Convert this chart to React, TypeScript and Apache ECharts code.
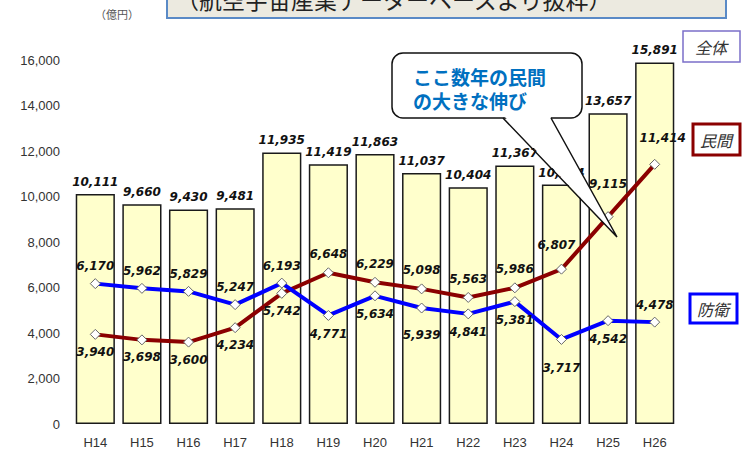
import React, { useEffect, useRef } from "react";
import * as echarts from "echarts";

const categories = ["H14", "H15", "H16", "H17", "H18", "H19", "H20", "H21", "H22", "H23", "H24", "H25", "H26"];
const totalValues = [10111, 9660, 9430, 9481, 11935, 11419, 11863, 11037, 10404, 11367, 10524, 13657, 15891];
const privateValues = [3940, 3698, 3600, 4234, 5742, 6648, 6229, 5939, 5563, 5986, 6807, 9115, 11414];
const defenseValues = [6170, 5962, 5829, 5247, 6193, 4771, 5634, 5098, 4841, 5381, 3717, 4542, 4478];
// label texts as printed in the source chart (H21 labels appear swapped there)
const privateLabelText = ["3,940", "3,698", "3,600", "4,234", "5,742", "6,648", "6,229", "5,098", "5,563", "5,986", "6,807", "9,115", "11,414"];
const defenseLabelText = ["6,170", "5,962", "5,829", "5,247", "6,193", "4,771", "5,634", "5,939", "4,841", "5,381", "3,717", "4,542", "4,478"];
const yTicks = [0, 2000, 4000, 6000, 8000, 10000, 12000, 14000, 16000];
const calloutLines = ["ここ数年の民間", "の大きな伸び"];

const fmt = (v: number) => v.toLocaleString("en-US");

export default function App() {
  const ref = useRef<HTMLDivElement>(null);
  useEffect(() => {
    if (!ref.current) return;
    const chart = echarts.init(ref.current, undefined, { renderer: "svg" });
    const labelFont = {
      fontFamily: "DejaVu Sans, Verdana, sans-serif",
      fontWeight: "bold" as const,
      fontStyle: "italic" as const,
      fontSize: 12,
      color: "#111",
    };
    const privateBelow = [0, 1, 2, 3, 4];
    const defenseAbove = [0, 1, 2, 3, 4, 12];
    const privateData = privateValues.map((v, i) => ({
      value: v,
      label: {
        position: privateBelow.includes(i) ? "bottom" : "top",
        distance: privateBelow.includes(i) ? 6 : 7,
        offset: i === 11 ? [0, -14] : i === 10 ? [-5, -6] : i === 12 ? [8, -8] : [0, 0],
      },
    }));
    const defenseData = defenseValues.map((v, i) => ({
      value: v,
      label: {
        position: defenseAbove.includes(i) ? "top" : "bottom",
        distance: defenseAbove.includes(i) ? 6 : 7,
        offset: i === 7 ? [0, 8] : i === 10 ? [0, 10] : [0, 0],
      },
    }));
    const z = 100;
    const legendText = (text: string, x: number, y: number) => ({
      type: "text",
      z: z + 1,
      x,
      y,
      style: {
        text,
        fontSize: 16,
        fontStyle: "italic",
        fontFamily: "Noto Sans CJK JP, sans-serif",
        fill: "#333",
        align: "center",
        verticalAlign: "middle",
      },
    });
    const calloutText = (text: string, y: number) => ({
      type: "text",
      z: z + 3,
      x: 413,
      y,
      style: {
        text,
        fontSize: 19,
        fontWeight: "bold",
        fontFamily: "Noto Sans CJK JP, sans-serif",
        fill: "#0070C0",
        align: "left",
        verticalAlign: "middle",
      },
    });
    chart.setOption({
      animation: false,
      backgroundColor: "#ffffff",
      grid: { left: 72, right: 68, top: 60, bottom: 24, containLabel: false },
      xAxis: {
        type: "category",
        data: categories,
        axisLine: { show: false },
        axisTick: { show: false },
        axisLabel: { color: "#333", fontSize: 13, fontFamily: "Liberation Sans, Arial, sans-serif", margin: 12 },
      },
      yAxis: {
        type: "value",
        min: yTicks[0],
        max: yTicks[yTicks.length - 1],
        interval: 2000,
        splitLine: { show: false },
        axisLine: { show: false },
        axisTick: { show: false },
        axisLabel: {
          color: "#333",
          fontSize: 13,
          fontFamily: "Liberation Sans, Arial, sans-serif",
          margin: 12,
          formatter: (v: number) => fmt(v),
        },
      },
      series: [
        {
          name: "全体",
          type: "bar",
          data: totalValues,
          barCategoryGap: "16%",
          itemStyle: { color: "#FFFFCC", borderColor: "#1a1a1a", borderWidth: 1.5 },
          label: { show: true, position: "top", distance: 6, ...labelFont, formatter: (p: any) => fmt(p.value) },
          z: 1,
        },
        {
          name: "民間",
          type: "line",
          data: privateData,
          lineStyle: { color: "#8B0000", width: 4 },
          itemStyle: { color: "#ffffff", borderColor: "#666", borderWidth: 1 },
          symbol: "diamond",
          symbolSize: 10,
          showAllSymbol: true,
          label: { show: true, ...labelFont, formatter: (p: any) => privateLabelText[p.dataIndex] },
          z: 3,
        },
        {
          name: "防衛",
          type: "line",
          data: defenseData,
          lineStyle: { color: "#0000FF", width: 4 },
          itemStyle: { color: "#ffffff", borderColor: "#666", borderWidth: 1 },
          symbol: "diamond",
          symbolSize: 10,
          showAllSymbol: true,
          label: { show: true, ...labelFont, formatter: (p: any) => defenseLabelText[p.dataIndex] },
          z: 4,
        },
      ],
      graphic: [
        // top caption box (cut off at top, as in the source)
        {
          type: "rect",
          z,
          shape: { x: 167, y: -20, width: 559, height: 38 },
          style: { fill: "#ECEAE0", stroke: "#5A8AC6", lineWidth: 2 },
        },
        {
          type: "text",
          z: z + 1,
          x: 176,
          y: -1,
          style: {
            text: "（航空宇宙産業データーベースより抜粋）",
            fontSize: 23,
            fontFamily: "Noto Sans CJK JP, sans-serif",
            fill: "#222",
            verticalAlign: "middle",
            align: "left",
          },
        },
        {
          type: "text",
          z,
          x: 117,
          y: 14,
          style: {
            text: "（億円）",
            fontSize: 11,
            fontFamily: "Noto Sans CJK JP, sans-serif",
            fill: "#555",
            align: "center",
            verticalAlign: "middle",
          },
        },
        // callout
        {
          type: "rect",
          z,
          shape: { x: 392, y: 53, width: 190, height: 65, r: 11 },
          style: { fill: "#ffffff", stroke: "#111", lineWidth: 1.5 },
        },
        {
          type: "polygon",
          z: z + 1,
          shape: { points: [[504, 116], [617, 237], [550, 116]] },
          style: { fill: "#ffffff", stroke: "none" },
        },
        {
          type: "polyline",
          z: z + 2,
          shape: { points: [[503, 118], [617, 237], [551, 118]] },
          style: { fill: "none", stroke: "#111", lineWidth: 1.5 },
        },
        calloutText(calloutLines[0], 76),
        calloutText(calloutLines[1], 100),
        // legend boxes
        {
          type: "rect",
          z,
          shape: { x: 683, y: 31, width: 57, height: 31 },
          style: { fill: "#ffffff", stroke: "#7B6FC9", lineWidth: 1.5 },
        },
        legendText("全体", 711, 47),
        {
          type: "rect",
          z,
          shape: { x: 693, y: 124, width: 47, height: 31 },
          style: { fill: "#ffffff", stroke: "#8B0000", lineWidth: 3 },
        },
        legendText("民間", 716, 140),
        {
          type: "rect",
          z,
          shape: { x: 690, y: 294, width: 47, height: 29 },
          style: { fill: "#ffffff", stroke: "#0000FF", lineWidth: 3 },
        },
        legendText("防衛", 713, 309),
      ],
    });
    return () => chart.dispose();
  }, []);
  return <div ref={ref} style={{ width: 746, height: 449, position: "absolute", left: 0, top: 0 }} />;
}
